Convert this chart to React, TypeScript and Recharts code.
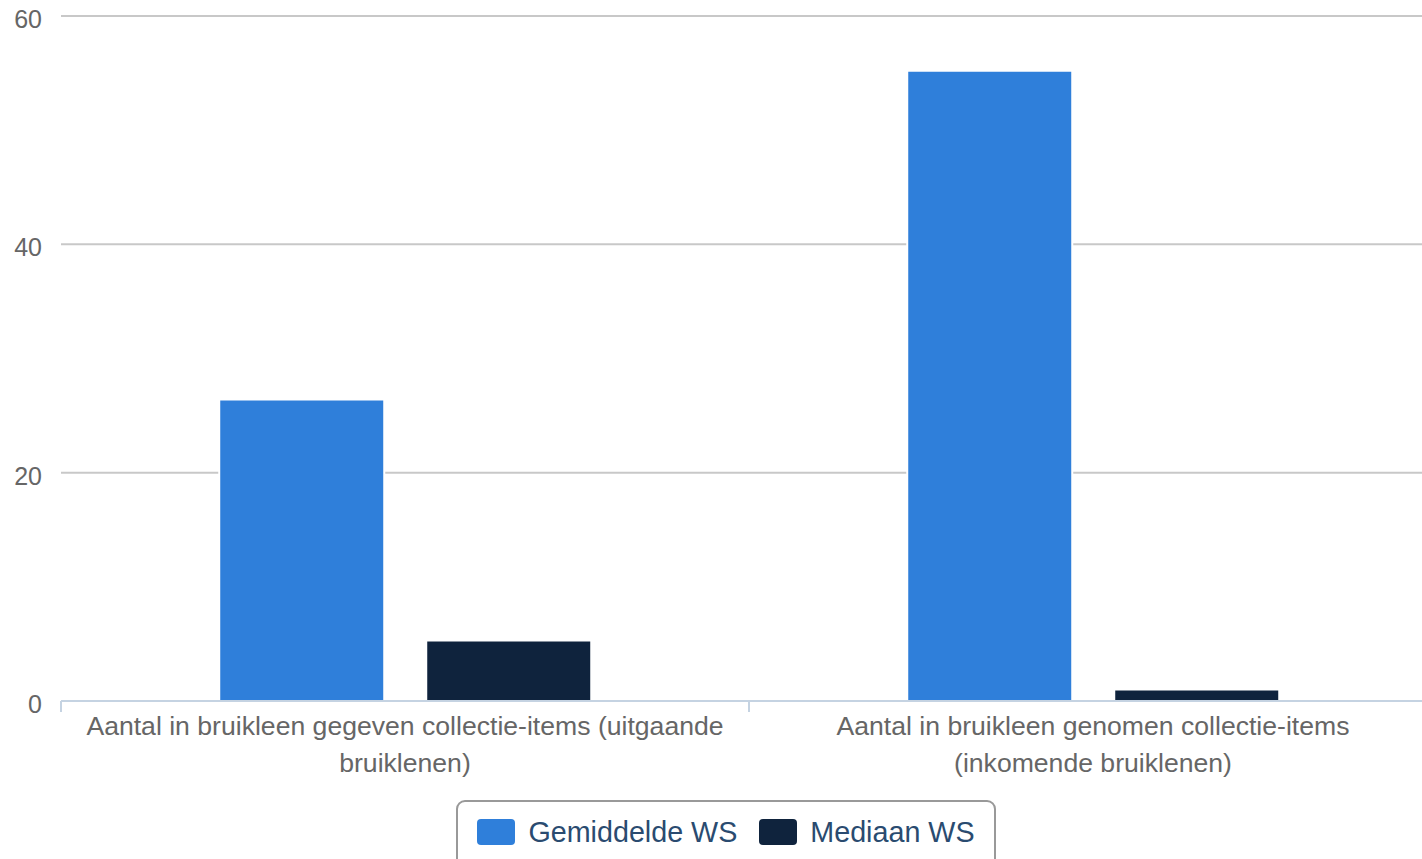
import React from "react";
import {
  BarChart,
  Bar,
  XAxis,
  YAxis,
  CartesianGrid,
  Legend,
} from "recharts";

const categories = [
  "Aantal in bruikleen gegeven collectie-items (uitgaande\nbruiklenen)",
  "Aantal in bruikleen genomen collectie-items\n(inkomende bruiklenen)",
];
const gemiddeldeWS = [26.4, 55.2];
const mediaanWS = [5.3, 1];
const yTicks = [0, 20, 40, 60];

const series = [
  { key: "gemiddelde", name: "Gemiddelde WS", color: "#2f7fda" },
  { key: "mediaan", name: "Mediaan WS", color: "#0f233d" },
];

const data = categories.map((c, i) => ({
  category: c,
  gemiddelde: gemiddeldeWS[i],
  mediaan: mediaanWS[i],
}));

const FONT = '"Liberation Sans", Arial, Helvetica, sans-serif';
const AXIS = "#c5d3e2";

function CategoryTick(props: any) {
  const { x, y, payload } = props;
  const lines = String(payload.value).split("\n");
  const half = payload.offset ?? 344;
  return (
    <g>
      <line x1={x - half} x2={x - half} y1={701} y2={712} stroke={AXIS} strokeWidth={2} />
      <line x1={x + half} x2={x + half} y1={701} y2={712} stroke={AXIS} strokeWidth={2} />
      <text x={x} y={y} textAnchor="middle" fill="#666" fontSize={26.6} fontFamily={FONT}>
        {lines.map((l, i) => (
          <tspan key={i} x={x} dy={i === 0 ? 34 : 37}>
            {l}
          </tspan>
        ))}
      </text>
    </g>
  );
}

function LegendBox() {
  return (
    <div style={{ display: "flex", justifyContent: "center", paddingLeft: 15 }}>
      <div
        style={{
          display: "flex",
          alignItems: "center",
          height: 66,
          padding: "0 19px",
          border: "2px solid #999",
          borderRadius: 9,
          fontFamily: FONT,
          fontSize: 28.7,
          color: "#2a4b70",
        }}
      >
        {series.map((s, i) => (
          <div key={s.key} style={{ display: "flex", alignItems: "center", marginLeft: i ? 22 : 0, marginTop: -6 }}>
            <span
              style={{
                display: "inline-block",
                width: 38,
                height: 26,
                borderRadius: 4,
                background: s.color,
                marginRight: 13,
              }}
            />
            <span>{s.name}</span>
          </div>
        ))}
      </div>
    </div>
  );
}

export default function App() {
  return (
    <div
      style={{
        position: "fixed",
        left: 0,
        top: 0,
        width: 1422,
        height: 859,
        overflow: "hidden",
        background: "#fff",
      }}
    >
      <BarChart
        width={1437}
        height={880}
        data={data}
        margin={{ top: 16, right: 0, left: 0, bottom: 10 }}
        barCategoryGap="23%"
        barGap={42}
      >
        <CartesianGrid vertical={false} stroke="#c8c8c8" strokeWidth={2} />
        <XAxis
          dataKey="category"
          height={99}
          interval={0}
          tickLine={false}
          tickSize={0}
          tickMargin={0}
          axisLine={{ stroke: AXIS, strokeWidth: 2 }}
          tick={<CategoryTick />}
        />
        <YAxis
          width={61}
          domain={[0, 60]}
          ticks={yTicks}
          axisLine={false}
          tickLine={false}
          tickSize={0}
          tickMargin={19}
          tick={{ fill: "#666", fontSize: 25, fontFamily: FONT, dy: 3 }}
        />
        <Legend verticalAlign="bottom" content={<LegendBox />} />
        {series.map((s) => (
          <Bar
            key={s.key}
            dataKey={s.key}
            name={s.name}
            fill={s.color}
            stroke="#ffffff"
            strokeWidth={2}
            isAnimationActive={false}
          />
        ))}
      </BarChart>
    </div>
  );
}
